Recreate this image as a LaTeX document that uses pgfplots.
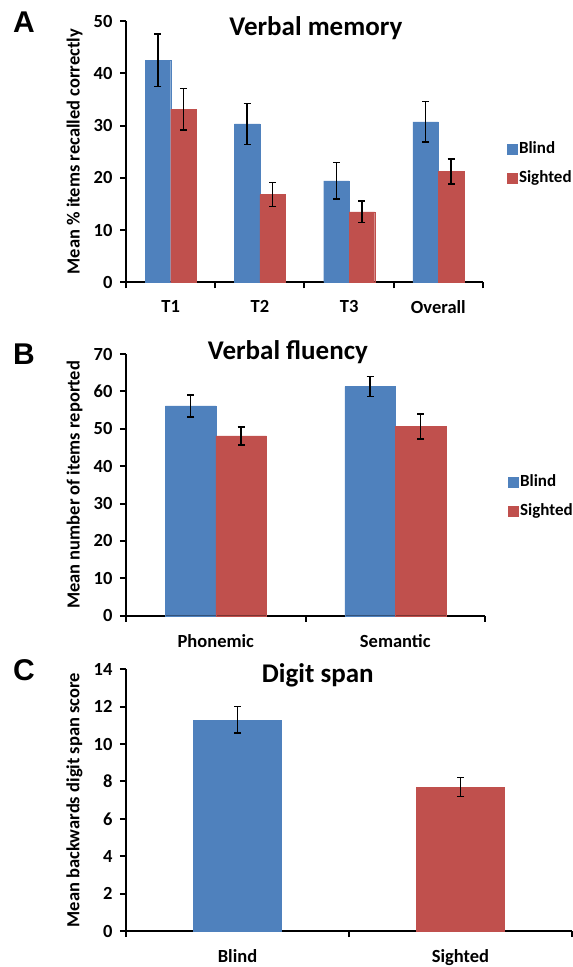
\documentclass[border=0pt]{standalone}
\usepackage{pgfplots}
\usepackage{pgfplotstable}
\pgfplotsset{compat=1.18}
\usepackage{fontspec}
\setmainfont{Carlito}
\newfontfamily\arialfont{Liberation Sans}
\definecolor{cblue}{RGB}{79,129,189}
\definecolor{cred}{RGB}{192,80,77}
\newcommand\lbl{\fontsize{18.5}{21}\selectfont\bfseries}
\newcommand\leg{\fontsize{17}{20}\selectfont\bfseries}

\pgfplotstableread{
x b be s se
0 42.5 5.0 33.1 4.0
1 30.3 3.9 16.8 2.3
2 19.4 3.5 13.5 2.1
3 30.7 3.9 21.2 2.4
}\dataA
\pgfplotstableread{
x b be s se
0 56.1 2.9 48.1 2.4
1 61.3 2.7 50.6 3.3
}\dataB
\pgfplotstableread{
x y e
0 11.3 0.72
}\dataCb
\pgfplotstableread{
x y e
1 7.7 0.5
}\dataCs

\pgfplotsset{
  panel/.style={
    scale only axis,
    axis x line=bottom, axis y line=left,
    axis line style={line width=2pt, -},
    tick align=outside,
    major tick length=6pt, minor tick length=6pt,
    tick style={line width=2pt, black},
    major x tick style={draw=none},
    ymin=0,
    ybar=0pt,
    clip=false,
    /pgf/number format/assume math mode=true,
    tick label style={font=\lbl},
    label style={font=\lbl},
    yticklabel style={xshift=-4pt},
    xticklabel style={yshift=-9pt},
    ylabel style={at={(axis description cs:0,0.5)}, yshift=40pt, anchor=south},
    title style={font=\fontsize{27}{31}\selectfont\bfseries, anchor=center},
    legend style={draw=none, fill=none, font=\leg, inner sep=0pt, outer sep=0pt,
      row sep=15pt, column sep=2pt, legend cell align=left,
      nodes={inner sep=0pt, text height=11pt, text depth=3pt}},
    legend image code/.code={\fill[##1] (0pt,-5pt) rectangle (10pt,5pt);},
    error bars/error mark=-,
    error bars/error bar style={line width=1.5pt, draw=black, solid},
    error bars/error mark options={rotate=90, line width=1.5pt, draw=black, solid, mark size=3.5pt},
  }
}

\begin{document}
\begin{tikzpicture}
\useasboundingbox (0pt,0pt) rectangle (573pt,-967pt);

% Panel A
\begin{axis}[panel, at={(126pt,-282.3pt)}, anchor=south west,
  width=357pt, height=261.3pt,
  xmin=-0.5, xmax=3.5, ymax=50, ytick={0,10,...,50},
  xtick={0,1,2,3}, xticklabels={T1,T2,T3,Overall},
  minor xtick={-0.5,0.5,1.5,2.5,3.5},
  bar width=25.5pt,
  ylabel={Mean \% items recalled correctly},
  title={Verbal memory},
  title style={at={(axis description cs:0.532,0.951)}},
  legend style={at={(axis description cs:1.067,0.4546)}, anchor=west}]
\addplot[fill=cblue, draw=cblue, line width=0.1pt, error bars/.cd, y dir=both, y explicit]
  table[x=x, y=b, y error=be] {\dataA};
\addplot[fill=cred, draw=cred, line width=0.1pt, error bars/.cd, y dir=both, y explicit]
  table[x=x, y=s, y error=se] {\dataA};
\legend{Blind, Sighted}
\end{axis}

% Panel B
\begin{axis}[panel, at={(126pt,-615.7pt)}, anchor=south west,
  width=359pt, height=261.7pt,
  xmin=-0.5, xmax=1.5, ymax=70, ytick={0,10,...,70},
  xtick={0,1}, xticklabels={Phonemic,Semantic},
  minor xtick={-0.5,0.5,1.5},
  bar width=50.5pt,
  ylabel={Mean number of items reported},
  title={Verbal fluency},
  title style={at={(axis description cs:0.451,0.983)}},
  legend style={at={(axis description cs:1.064,0.4536)}, anchor=west}]
\addplot[fill=cblue, draw=cblue, line width=0.1pt, error bars/.cd, y dir=both, y explicit]
  table[x=x, y=b, y error=be] {\dataB};
\addplot[fill=cred, draw=cred, line width=0.1pt, error bars/.cd, y dir=both, y explicit]
  table[x=x, y=s, y error=se] {\dataB};
\legend{Blind, Sighted}
\end{axis}

% Panel C
\begin{axis}[panel, at={(126pt,-931pt)}, anchor=south west,
  width=446pt, height=261.7pt,
  xmin=-0.5, xmax=1.5, ymax=14, ytick={0,2,...,14},
  xtick={0,1}, xticklabels={Blind,Sighted},
  minor xtick={-0.5,0.5,1.5},
  bar width=88pt,
  ylabel={Mean backwards digit span score},
  title={Digit span},
  title style={at={(axis description cs:0.43,0.955)}}]
\addplot[fill=cblue, draw=cblue, line width=0.1pt, bar shift=0pt, error bars/.cd, y dir=both, y explicit]
  table[x=x, y=y, y error=e] {\dataCb};
\addplot[fill=cred, draw=cred, line width=0.1pt, bar shift=0pt, error bars/.cd, y dir=both, y explicit]
  table[x=x, y=y, y error=e] {\dataCs};
\end{axis}

\node[font=\arialfont\bfseries\fontsize{30}{30}\selectfont, anchor=base west, inner sep=0pt] at (13pt,-32pt) {A};
\node[font=\arialfont\bfseries\fontsize{30}{30}\selectfont, anchor=base west, inner sep=0pt] at (13pt,-364pt) {B};
\node[font=\arialfont\bfseries\fontsize{30}{30}\selectfont, anchor=base west, inner sep=0pt] at (13pt,-680pt) {C};
\end{tikzpicture}
\end{document}
